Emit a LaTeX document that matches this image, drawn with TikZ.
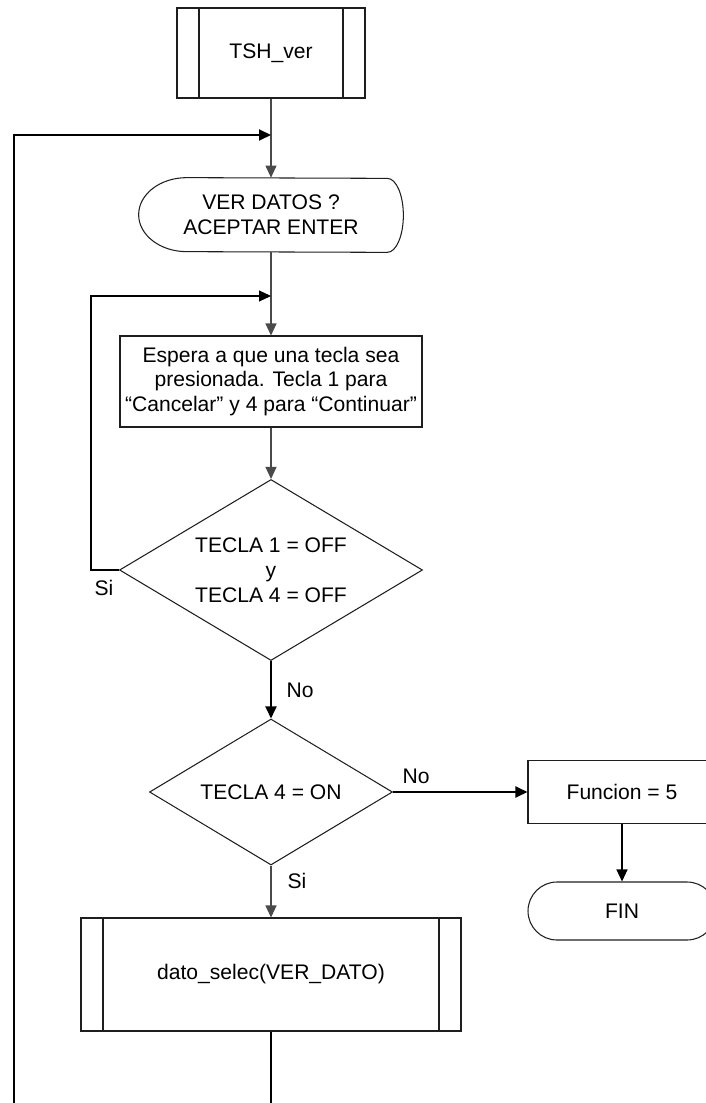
\documentclass[tikz,border=0pt]{standalone}
\usepackage{fontspec}
\setmainfont{Liberation Sans}
\usepackage{tikz}
\usetikzlibrary{arrows.meta,positioning,calc,shapes.geometric}
\definecolor{boxink}{HTML}{1E1E1E}
\definecolor{wireink}{HTML}{4A4A4A}

\begin{document}
\begin{tikzpicture}[
  font=\fontsize{12}{14.2}\selectfont,
  stepbox/.style={rectangle,draw=boxink,line width=0.6pt,inner sep=0pt,
    align=center},
  subproc/.style={stepbox,path picture={\draw[boxink,line width=0.6pt]
    ([xshift=4.4mm]path picture bounding box.north west) --
    ([xshift=4.4mm]path picture bounding box.south west)
    ([xshift=-4.4mm]path picture bounding box.north east) --
    ([xshift=-4.4mm]path picture bounding box.south east);}},
  decision/.style={diamond,draw=boxink,line width=0.6pt,inner sep=0pt,
    shape aspect=1.67,align=center},
  endcap/.style={stepbox,rounded corners=5.8mm},
  flow/.style={-{Triangle[length=2.4mm,width=2.2mm]},line width=0.6pt,
    wireink},
  flowb/.style={flow,line width=1.1pt,black},
  tag/.style={inner sep=0pt}
]
  \useasboundingbox (0,0) rectangle (14.12,-22.06);
  \clip (0,0) rectangle (14.12,-22.06);

  \node[subproc,minimum width=3.76cm,minimum height=1.8cm] (tsh)
    at (5.42,-1.06) {TSH\_ver};
  \node[minimum width=5.28cm,minimum height=1.48cm,inner sep=0pt,
    align=center] (verdat) at (5.42,-4.30) {VER DATOS ?\\ACEPTAR ENTER};
  \draw[boxink,line width=0.6pt] ([xshift=9.6mm]verdat.north west)
    arc[start angle=90,end angle=270,x radius=9.6mm,y radius=7.4mm]
    -- ([xshift=-3.2mm]verdat.south east)
    arc[start angle=-90,end angle=90,x radius=3.2mm,y radius=7.4mm]
    -- cycle;
  \node[stepbox,minimum width=6.04cm,minimum height=1.82cm] (espera)
    at (5.42,-7.63) {Espera a que una tecla sea\\presionada. Tecla 1 para\\
    “Cancelar” y 4 para “Continuar”};
  \node[decision,minimum width=6.06cm,minimum height=3.62cm] (tecla14)
    at (5.42,-11.40) {TECLA 1 = OFF\\y\\TECLA 4 = OFF};
  \node[decision,minimum width=4.86cm,minimum height=2.92cm] (tecla4)
    at (5.42,-15.84) {TECLA 4 = ON};
  \node[stepbox,minimum width=3.76cm,minimum height=1.26cm] (funcion)
    at (12.44,-15.84) {Funcion = 5};
  \node[endcap,minimum width=3.76cm,minimum height=1.16cm] (fin)
    at (12.44,-18.22) {FIN};
  \node[subproc,minimum width=7.60cm,minimum height=2.26cm] (dato)
    at (5.42,-19.49) {dato\_selec(VER\_DATO)};

  % loop joins and free ends at the lower edge
  \coordinate (join1) at (5.42,-2.70);
  \coordinate (join2) at (5.42,-5.92);
  \coordinate (bendl) at (1.82,-11.40);
  \coordinate (loopl) at (0.28,-22.06);
  \coordinate (botm) at (5.42,-22.06);

  \draw[flow] (tsh) -- (verdat);
  \draw[flowb] (loopl) |- (join1);
  \draw[flow] (verdat) -- (espera);
  \draw[flow] (espera) -- (tecla14);
  \draw[flow,black] (tecla14.west) -- (bendl) |- (join2);
  \draw[flowb] (tecla14) -- (tecla4);
  \draw[flowb] (tecla4) -- (funcion);
  \draw[flow,black] (funcion) -- (fin);
  \draw[flow] (tecla4) -- (dato);
  \draw[flowb,-] (dato) -- (botm);

  \node[tag] (si1) at (2.08,-11.76) {Si};
  \node[tag] (no1) at (6.00,-13.80) {No};
  \node[tag] (no2) at (8.32,-15.52) {No};
  \node[tag] (si2) at (5.94,-17.62) {Si};
\end{tikzpicture}
\end{document}
